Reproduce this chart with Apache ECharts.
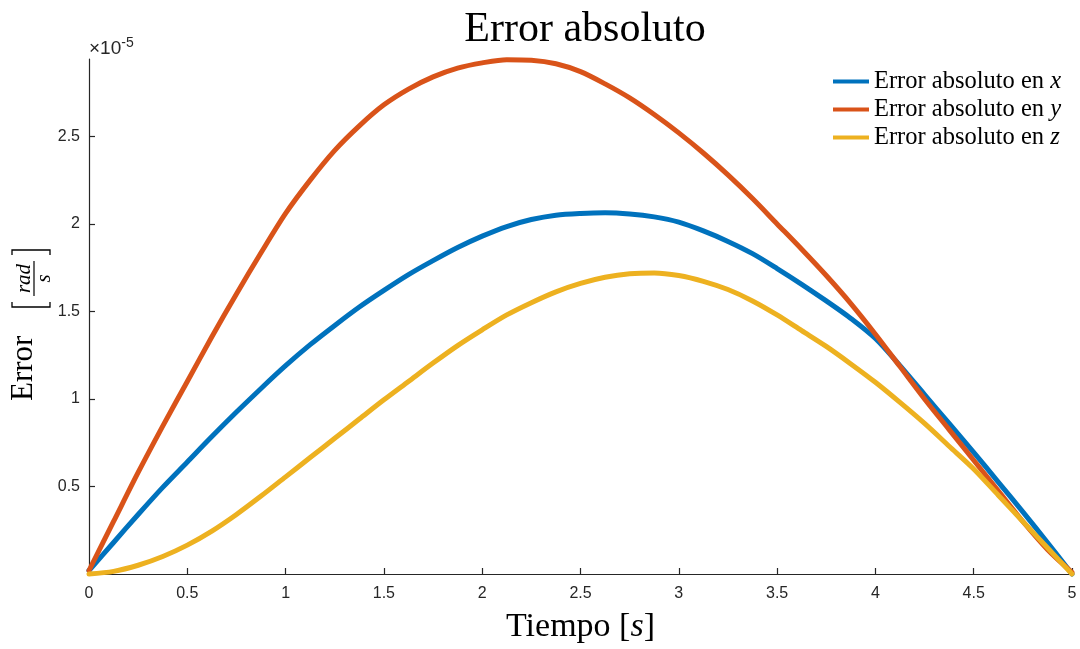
<!DOCTYPE html>
<html>
<head>
<meta charset="utf-8">
<script src="https://cdn.jsdelivr.net/npm/echarts@6/dist/echarts.min.js"></script>
<style>html,body{margin:0;padding:0;background:#fff}#c{width:1080px;height:649px}</style>
</head>
<body>
<div id="c"></div>
<script>
// time samples [s]
const times = [0,0.125,0.25,0.375,0.5,0.625,0.75,0.875,1,1.125,1.25,1.375,1.5,1.625,1.75,1.875,2,2.125,2.25,2.375,2.5,2.625,2.75,2.875,3,3.125,3.25,3.375,3.5,3.625,3.75,3.875,4,4.125,4.25,4.375,4.5,4.625,4.75,4.875,5];
// absolute errors (x 1e-5 rad/s)
const errX = [0.02,0.18,0.34,0.495,0.64,0.785,0.925,1.06,1.19,1.31,1.42,1.525,1.62,1.71,1.79,1.865,1.93,1.985,2.025,2.05,2.06,2.064,2.057,2.04,2.01,1.96,1.90,1.83,1.745,1.655,1.56,1.46,1.345,1.19,1.025,0.86,0.695,0.525,0.355,0.18,0.0];
const errY = [0.02,0.30,0.58,0.845,1.10,1.355,1.60,1.835,2.06,2.25,2.42,2.56,2.68,2.77,2.84,2.89,2.92,2.938,2.935,2.915,2.87,2.80,2.72,2.625,2.52,2.405,2.28,2.145,2.00,1.855,1.705,1.545,1.37,1.185,1.00,0.825,0.65,0.475,0.30,0.14,0.01];
const errZ = [0.0,0.015,0.05,0.10,0.165,0.245,0.34,0.445,0.555,0.665,0.775,0.885,0.995,1.10,1.205,1.305,1.395,1.48,1.55,1.612,1.66,1.695,1.715,1.72,1.705,1.672,1.625,1.56,1.48,1.39,1.30,1.20,1.095,0.98,0.86,0.73,0.60,0.45,0.30,0.15,0.0];
const seriesNames = ['Error absoluto en x','Error absoluto en y','Error absoluto en z'];
const seriesColors = ['#0072BD','#D95319','#EDB120'];
const yTicks = [0.5,1,1.5,2,2.5];

const serif = '"Liberation Serif","Times New Roman",serif';
const sans = '"Liberation Sans",Arial,Helvetica,sans-serif';
const axisColor = '#262626';

const chart = echarts.init(document.getElementById('c'), null, {renderer:'canvas'});
const mk = arr => times.map((t,i)=>[t,arr[i]]);
const allData = [errX, errY, errZ];

chart.setOption({
  animation:false,
  backgroundColor:'#fff',
  title:{
    text:'Error absoluto',
    left:580, top:4, textAlign:'center',
    textStyle:{fontFamily:serif,fontSize:42,fontWeight:'normal',color:'#000'}
  },
  legend:{
    left:828, top:64, orient:'vertical', itemGap:3,
    icon:'rect', itemWidth:36, itemHeight:4,
    data:seriesNames,
    formatter:function(n){ const v=n.slice(-1); return '{a|'+n.slice(0,-1)+'}{i|'+v+'}'; },
    textStyle:{
      fontFamily:serif,fontSize:24.5,color:'#000',
      rich:{a:{fontFamily:serif,fontSize:24.5,color:'#000'},i:{fontFamily:serif,fontSize:24.5,fontStyle:'italic',color:'#000'}}
    }
  },
  grid:{left:89,right:8,top:59,bottom:66,containLabel:false},
  xAxis:{
    type:'value',min:0,max:5,interval:0.5,
    axisLine:{show:true,lineStyle:{color:axisColor,width:1.2}},
    axisTick:{show:true,inside:true,length:6,lineStyle:{color:axisColor,width:1.2}},
    axisLabel:{color:axisColor,fontFamily:sans,fontSize:16,margin:12,
      formatter:v=>String(+v.toFixed(2))},
    splitLine:{show:false},
    name:'{n|Tiempo }{b|[}{i|s}{b|]}',
    nameLocation:'middle', nameGap:36,
    nameTextStyle:{fontFamily:serif,fontSize:34,color:'#000',
      rich:{n:{fontFamily:serif,fontSize:34,color:'#000'},b:{fontFamily:serif,fontSize:34,color:'#000'},i:{fontFamily:serif,fontSize:34,fontStyle:'italic',color:'#000'}}}
  },
  yAxis:{
    type:'value',min:0,max:2.942,
    axisLine:{show:true,lineStyle:{color:axisColor,width:1.2}},
    axisTick:{show:true,inside:true,length:6,customValues:yTicks,lineStyle:{color:axisColor,width:1.2}},
    axisLabel:{color:axisColor,fontFamily:sans,fontSize:16,margin:9,customValues:yTicks,
      formatter:v=> (yTicks.some(t=>Math.abs(t-v)<1e-9) ? String(v) : '')},
    splitLine:{show:false}
  },
  graphic:[
    {type:'text',left:89,top:36,style:{text:'×10{s|-5}',font:'19px '+sans,fill:axisColor,
      rich:{s:{fontSize:14,fontFamily:sans,fill:axisColor,verticalAlign:'top',padding:[0,0,12,0]}}}},
    {type:'group',x:31,y:401,rotation:Math.PI/2,children:[
      {type:'text',style:{text:'Error',x:0,y:-7,font:'31px '+serif,fill:'#000',align:'left',verticalAlign:'middle'}},
      {type:'polyline',shape:{points:[[99,-19],[94,-19],[94,19],[99,19]]},style:{stroke:'#000',lineWidth:1.3,fill:null}},
      {type:'polyline',shape:{points:[[146,-19],[151,-19],[151,19],[146,19]]},style:{stroke:'#000',lineWidth:1.3,fill:null}},
      {type:'line',shape:{x1:105,y1:3,x2:140,y2:3},style:{stroke:'#000',lineWidth:1.2}},
      {type:'text',style:{text:'rad',x:122.5,y:-7,font:'italic 21px '+serif,fill:'#000',align:'center',verticalAlign:'middle'}},
      {type:'text',style:{text:'s',x:122.5,y:13,font:'italic 21px '+serif,fill:'#000',align:'center',verticalAlign:'middle'}}
    ]}
  ],
  series: seriesNames.map((n,k)=>({
    name:n,type:'line',data:mk(allData[k]),smooth:0.3,showSymbol:false,symbol:'none',
    lineStyle:{width:5,color:seriesColors[k],cap:'round',join:'round'},itemStyle:{color:seriesColors[k]},
    clip:false,z:2+k
  }))
});
</script>
</body>
</html>
